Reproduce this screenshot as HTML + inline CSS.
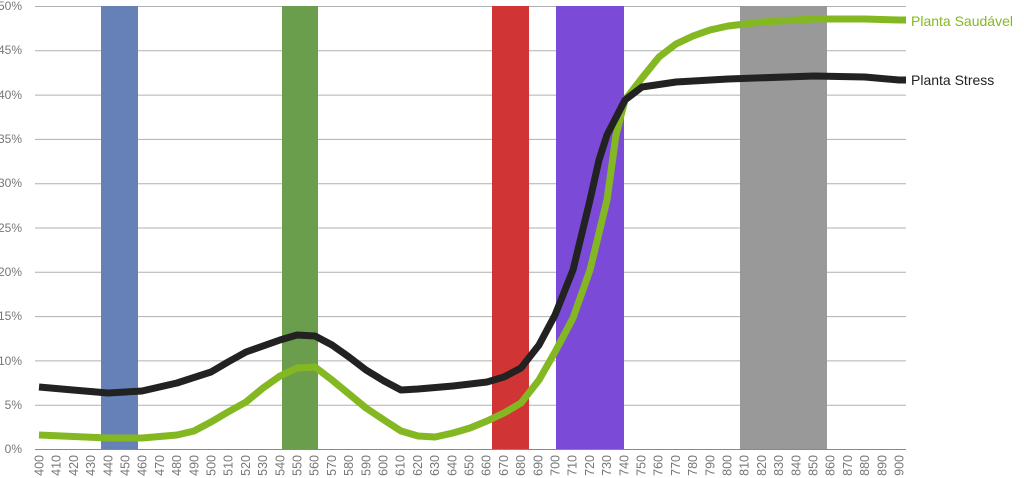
<!DOCTYPE html>
<html><head><meta charset="utf-8"><style>
html,body{margin:0;padding:0;background:#fff;width:1024px;height:478px;overflow:hidden}
svg text{font-family:"Liberation Sans",sans-serif}
</style></head><body>
<svg width="1024" height="478" viewBox="0 0 1024 478" xmlns="http://www.w3.org/2000/svg">
<g stroke="#b0b0b0" stroke-width="1">
<line x1="35" y1="6.5" x2="906" y2="6.5"/>
<line x1="35" y1="50.8" x2="906" y2="50.8"/>
<line x1="35" y1="95.1" x2="906" y2="95.1"/>
<line x1="35" y1="139.4" x2="906" y2="139.4"/>
<line x1="35" y1="183.7" x2="906" y2="183.7"/>
<line x1="35" y1="228" x2="906" y2="228"/>
<line x1="35" y1="272.3" x2="906" y2="272.3"/>
<line x1="35" y1="316.6" x2="906" y2="316.6"/>
<line x1="35" y1="360.9" x2="906" y2="360.9"/>
<line x1="35" y1="405.2" x2="906" y2="405.2"/>
</g>
<rect x="101" y="6" width="37" height="443" fill="#6680b8"/>
<rect x="282" y="6" width="36" height="443" fill="#6a9e4c"/>
<rect x="492" y="6" width="37" height="443" fill="#d13434"/>
<rect x="556" y="6" width="68" height="443" fill="#7b4bd8"/>
<rect x="740" y="6" width="87" height="443" fill="#999999"/>
<line x1="35" y1="449.5" x2="906" y2="449.5" stroke="#888" stroke-width="1"/>
<g font-size="12" fill="#777" text-anchor="end">
<text x="22" y="10">50%</text><text x="22" y="54">45%</text><text x="22" y="99">40%</text>
<text x="22" y="143">35%</text><text x="22" y="187">30%</text><text x="22" y="232">25%</text>
<text x="22" y="276">20%</text><text x="22" y="320">15%</text><text x="22" y="365">10%</text>
<text x="22" y="409">5%</text><text x="22" y="453">0%</text>
</g>
<g font-size="12.5" fill="#777" text-anchor="end">
<text transform="translate(43.5,455) rotate(-90)">400</text>
<text transform="translate(60.7,455) rotate(-90)">410</text>
<text transform="translate(77.9,455) rotate(-90)">420</text>
<text transform="translate(95.1,455) rotate(-90)">430</text>
<text transform="translate(112.3,455) rotate(-90)">440</text>
<text transform="translate(129.5,455) rotate(-90)">450</text>
<text transform="translate(146.7,455) rotate(-90)">460</text>
<text transform="translate(163.9,455) rotate(-90)">470</text>
<text transform="translate(181.1,455) rotate(-90)">480</text>
<text transform="translate(198.3,455) rotate(-90)">490</text>
<text transform="translate(215.5,455) rotate(-90)">500</text>
<text transform="translate(232.7,455) rotate(-90)">510</text>
<text transform="translate(249.9,455) rotate(-90)">520</text>
<text transform="translate(267.1,455) rotate(-90)">530</text>
<text transform="translate(284.3,455) rotate(-90)">540</text>
<text transform="translate(301.5,455) rotate(-90)">550</text>
<text transform="translate(318.7,455) rotate(-90)">560</text>
<text transform="translate(335.9,455) rotate(-90)">570</text>
<text transform="translate(353.1,455) rotate(-90)">580</text>
<text transform="translate(370.3,455) rotate(-90)">590</text>
<text transform="translate(387.5,455) rotate(-90)">600</text>
<text transform="translate(404.7,455) rotate(-90)">610</text>
<text transform="translate(421.9,455) rotate(-90)">620</text>
<text transform="translate(439.1,455) rotate(-90)">630</text>
<text transform="translate(456.3,455) rotate(-90)">640</text>
<text transform="translate(473.5,455) rotate(-90)">650</text>
<text transform="translate(490.7,455) rotate(-90)">660</text>
<text transform="translate(507.9,455) rotate(-90)">670</text>
<text transform="translate(525.1,455) rotate(-90)">680</text>
<text transform="translate(542.3,455) rotate(-90)">690</text>
<text transform="translate(559.5,455) rotate(-90)">700</text>
<text transform="translate(576.7,455) rotate(-90)">710</text>
<text transform="translate(593.9,455) rotate(-90)">720</text>
<text transform="translate(611.1,455) rotate(-90)">730</text>
<text transform="translate(628.3,455) rotate(-90)">740</text>
<text transform="translate(645.5,455) rotate(-90)">750</text>
<text transform="translate(662.7,455) rotate(-90)">760</text>
<text transform="translate(679.9,455) rotate(-90)">770</text>
<text transform="translate(697.1,455) rotate(-90)">780</text>
<text transform="translate(714.3,455) rotate(-90)">790</text>
<text transform="translate(731.5,455) rotate(-90)">800</text>
<text transform="translate(748.7,455) rotate(-90)">810</text>
<text transform="translate(765.9,455) rotate(-90)">820</text>
<text transform="translate(783.1,455) rotate(-90)">830</text>
<text transform="translate(800.3,455) rotate(-90)">840</text>
<text transform="translate(817.5,455) rotate(-90)">850</text>
<text transform="translate(834.7,455) rotate(-90)">860</text>
<text transform="translate(851.9,455) rotate(-90)">870</text>
<text transform="translate(869.1,455) rotate(-90)">880</text>
<text transform="translate(886.3,455) rotate(-90)">890</text>
<text transform="translate(903.5,455) rotate(-90)">900</text>
</g>
<polyline fill="none" stroke="#84b822" stroke-width="7" stroke-linejoin="round" points="39,435 108,438 142,438 177,435 194,431 211,422 228,412 246,402 263,388 280,376 297,368 315,367 332,380 349,394 366,408 384,420 401,431 418,436 435,437 453,433 470,428 487,421 504,413 521,403 539,380 555,352 573,318 590,270 607,200 616,135 625,100 642,78 659,57 676,44 693,36 710,30 728,26 762,22 814,19 865,19 899,20 906,20"/>
<polyline fill="none" stroke="#222" stroke-width="7" stroke-linejoin="round" points="39,387 73,390 108,393 142,391 177,383 211,372 228,362 246,352 280,340 297,335 315,336 332,345 349,357 366,370 384,381 401,390 418,389 453,386 487,382 504,377 521,368 539,345 555,315 573,270 590,200 599,160 607,135 625,100 642,87 676,82 728,79 814,76 865,77 899,80 906,80"/>
<text x="911" y="26" font-size="14" fill="#84b822">Planta Saudável</text>
<text x="911" y="85" font-size="14" fill="#222">Planta Stress</text>
</svg>
</body></html>
